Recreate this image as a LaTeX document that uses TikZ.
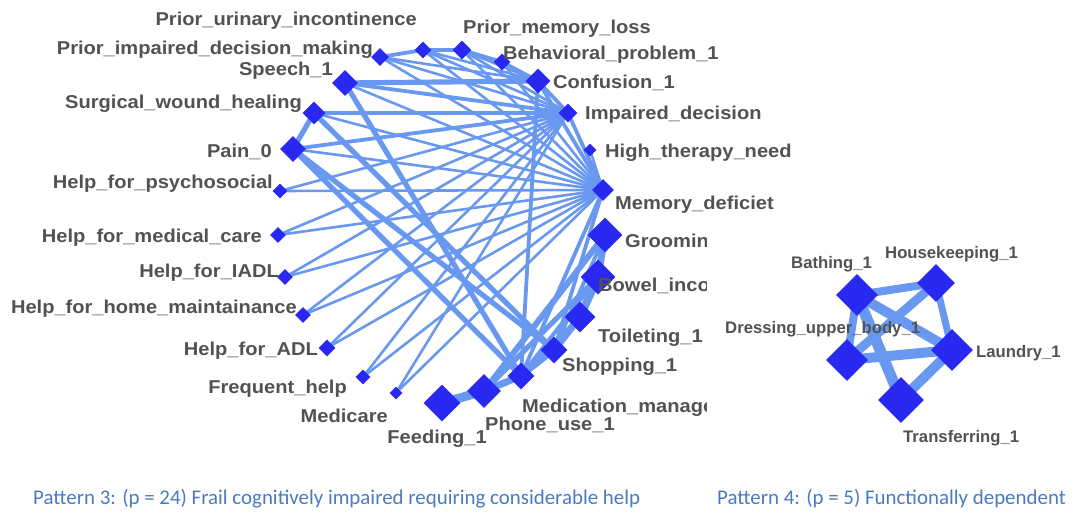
\documentclass[tikz,border=0pt]{standalone}
\usepackage{fontspec}
\usepackage{graphicx}
\setmainfont{Liberation Sans}
\newfontfamily\capfont{Carlito}
\usetikzlibrary{shapes.geometric,backgrounds}
\definecolor{edgeblue}{RGB}{105,152,240}
\definecolor{nodeblue}{RGB}{40,40,240}
\definecolor{labelgray}{RGB}{82,82,82}
\definecolor{capblue}{RGB}{74,123,190}
\newcommand{\wlab}[1]{\scalebox{1.08}[1]{#1}}

\begin{document}
\begin{tikzpicture}[x=1pt,y=-1pt,
  dia/.style={diamond,fill=nodeblue,inner sep=0pt,aspect=1,minimum width=#1,minimum height=#1},
  lab/.style={text=labelgray,font=\bfseries\fontsize{18.6}{20}\selectfont,inner sep=0pt},
  rlab/.style={text=labelgray,font=\bfseries\fontsize{16.7}{18}\selectfont,inner sep=0pt},
  captext/.style={text=capblue,font=\capfont\fontsize{20.9}{23}\selectfont,inner sep=0pt},
  ethin/.style={draw=edgeblue,line width=2.6pt},
  emid/.style={draw=edgeblue,line width=3.8pt},
  ethick/.style={draw=edgeblue,line width=5.2pt},
]
\useasboundingbox (0,0) rectangle (1072,514);

% ---- Pattern 3 network: nodes
\node[dia=17pt] (pui)   at (423,50)  {};
\node[dia=18pt] (pidm)  at (380,57)  {};
\node[dia=19pt] (pml)   at (462,50)  {};
\node[dia=17pt] (beh)   at (502,62)  {};
\node[dia=26pt] (sp)    at (345,83)  {};
\node[dia=25pt] (con)   at (538,81)  {};
\node[dia=23pt] (swh)   at (314,113) {};
\node[dia=19pt] (imp)   at (568,113) {};
\node[dia=26pt] (pain)  at (293,149) {};
\node[dia=13pt] (htn)   at (590,150) {};
\node[dia=15pt] (hps)   at (280,191) {};
\node[dia=22pt] (mem)   at (603,190) {};
\node[dia=16pt] (hmc)   at (278,235) {};
\node[dia=35pt] (gro)   at (605,235) {};
\node[dia=16pt] (hiadl) at (285,277) {};
\node[dia=35pt] (bow)   at (598,277) {};
\node[dia=16pt] (hhm)   at (303,315) {};
\node[dia=31pt] (toi)   at (580,317) {};
\node[dia=17pt] (hadl)  at (327,348) {};
\node[dia=27pt] (shop)  at (554,350) {};
\node[dia=15pt] (fh)    at (363,377) {};
\node[dia=27pt] (med)   at (521,376) {};
\node[dia=13pt] (mcare) at (396,393) {};
\node[dia=34pt] (phone) at (484,391) {};
\node[dia=37pt] (feed)  at (442,403) {};

% ---- Pattern 4 network: nodes
\node[dia=42pt] (bath)  at (857,295) {};
\node[dia=38pt] (house) at (936,283) {};
\node[dia=42pt] (dress) at (847,360) {};
\node[dia=42pt] (laun)  at (952,350) {};
\node[dia=46pt] (trans) at (901,400) {};

% ---- connectors, behind the nodes
\begin{scope}[on background layer]
  \fill[white] (0,0) rectangle (1072,514);
  % Pattern 3
  \foreach \a in {hps,hmc,hiadl,hhm,hadl,fh,mcare,pidm,pui,pml,beh,sp,swh,pain,htn}
    \draw[ethin] (mem.center) -- (\a.center);
  \foreach \a in {hps,hmc,hiadl,hhm,hadl,fh,mcare,pidm,pui,pml}
    \draw[ethin] (imp.center) -- (\a.center);
  \foreach \a in {pidm,pui,pml}
    \draw[ethin] (con.center) -- (\a.center);
  \foreach \a/\b in {imp/sp,imp/swh,imp/pain,imp/con,imp/mem,con/mem,con/med,
                     beh/con,pml/beh,pui/pml,pidm/pui,mem/shop,mem/med,shop/gro}
    \draw[emid] (\a.center) -- (\b.center);
  \foreach \a/\b in {sp/con,swh/pain,swh/shop,pain/shop,sp/med,pain/med}
    \draw[ethick] (\a.center) -- (\b.center);
  \draw[edgeblue,line width=9pt] (feed.center) -- (phone.center);
  \draw[edgeblue,line width=7pt] (phone.center) -- (med.center);
  \draw[edgeblue,line width=6pt] (med.center) -- (shop.center);
  \draw[edgeblue,line width=7pt] (shop.center) -- (toi.center);
  \draw[edgeblue,line width=8pt] (toi.center) -- (bow.center);
  \draw[edgeblue,line width=7pt] (bow.center) -- (gro.center);
  \draw[edgeblue,line width=6pt] (phone.center) -- (gro.center);
  \draw[edgeblue,line width=5pt] (phone.center) -- (bow.center);
  \draw[edgeblue,line width=4pt] (med.center) -- (toi.center);
  \draw[edgeblue,line width=4pt] (med.center) -- (bow.center);
  % Pattern 4
  \draw[edgeblue,line width=8pt]  (bath.center)  -- (house.center);
  \draw[edgeblue,line width=8pt]  (bath.center)  -- (dress.center);
  \draw[edgeblue,line width=10pt] (bath.center)  -- (laun.center);
  \draw[edgeblue,line width=11pt] (bath.center)  -- (trans.center);
  \draw[edgeblue,line width=9pt]  (house.center) -- (dress.center);
  \draw[edgeblue,line width=7pt]  (house.center) -- (laun.center);
  \draw[edgeblue,line width=10pt] (dress.center) -- (laun.center);
  \draw[edgeblue,line width=10pt] (laun.center)  -- (trans.center);
\end{scope}

% ---- Pattern 3 network: labels
\node[lab,anchor=base east] (l-pui)   at (417,25)  {\wlab{Prior\_urinary\_incontinence}};
\node[lab,anchor=base east] (l-pidm)  at (373,54)  {\wlab{Prior\_impaired\_decision\_making}};
\node[lab,anchor=base east] (l-sp)    at (333,75)  {\wlab{Speech\_1}};
\node[lab,anchor=base east] (l-swh)   at (302,108) {\wlab{Surgical\_wound\_healing}};
\node[lab,anchor=base east] (l-pain)  at (272,157) {\wlab{Pain\_0}};
\node[lab,anchor=base east] (l-hps)   at (273,188) {\wlab{Help\_for\_psychosocial}};
\node[lab,anchor=base east] (l-hmc)   at (262,242) {\wlab{Help\_for\_medical\_care}};
\node[lab,anchor=base east] (l-hiadl) at (279,277) {\wlab{Help\_for\_IADL}};
\node[lab,anchor=base east] (l-hhm)   at (297,313) {\wlab{Help\_for\_home\_maintainance}};
\node[lab,anchor=base east] (l-hadl)  at (318,355) {\wlab{Help\_for\_ADL}};
\node[lab,anchor=base east] (l-fh)    at (347,393) {\wlab{Frequent\_help}};
\node[lab,anchor=base east] (l-mcare) at (388,422) {\wlab{Medicare}};
\node[lab,anchor=base east] (l-feed)  at (487,443) {\wlab{Feeding\_1}};
\node[lab,anchor=base west] (l-phone) at (485,430) {\wlab{Phone\_use\_1}};
\node[lab,anchor=base west] (l-shop)  at (562,371) {\wlab{Shopping\_1}};
\node[lab,anchor=base west] (l-toi)   at (598,342) {\wlab{Toileting\_1}};
\node[lab,anchor=base west] (l-mem)   at (615,209) {\wlab{Memory\_deficiet}};
\node[lab,anchor=base west] (l-htn)   at (605,157) {\wlab{High\_therapy\_need}};
\node[lab,anchor=base west] (l-imp)   at (585,119) {\wlab{Impaired\_decision}};
\node[lab,anchor=base west] (l-con)   at (553,88)  {\wlab{Confusion\_1}};
\node[lab,anchor=base west] (l-beh)   at (503,59)  {\wlab{Behavioral\_problem\_1}};
\node[lab,anchor=base west] (l-pml)   at (463,33)  {\wlab{Prior\_memory\_loss}};
\begin{scope}
  \clip (0,0) rectangle (706,514);
  \node[lab,anchor=base west] (l-gro) at (625,247) {\wlab{Grooming\_1}};
  \node[lab,anchor=base west] (l-bow) at (598,291) {\wlab{Bowel\_incontinence}};
  \node[lab,anchor=base west] (l-med) at (522,412) {\wlab{Medication\_management}};
\end{scope}

% ---- Pattern 4 network: labels
\node[rlab,anchor=base west] (l-bath)  at (791,268) {Bathing\_1};
\node[rlab,anchor=base west] (l-house) at (885,258) {Housekeeping\_1};
\node[rlab,anchor=base west] (l-dress) at (725,333) {Dressing\_upper\_body\_1};
\node[rlab,anchor=base west] (l-laun)  at (976,357) {Laundry\_1};
\node[rlab,anchor=base west] (l-trans) at (903,442) {Transferring\_1};

% ---- captions
\node[captext,anchor=base west] (cap3) at (33,504) {Pattern 3: (p = 24) Frail cognitively impaired requiring considerable help};
\node[captext,anchor=base west] (cap4) at (717,504) {Pattern 4: (p = 5) Functionally dependent};
\end{tikzpicture}
\end{document}
